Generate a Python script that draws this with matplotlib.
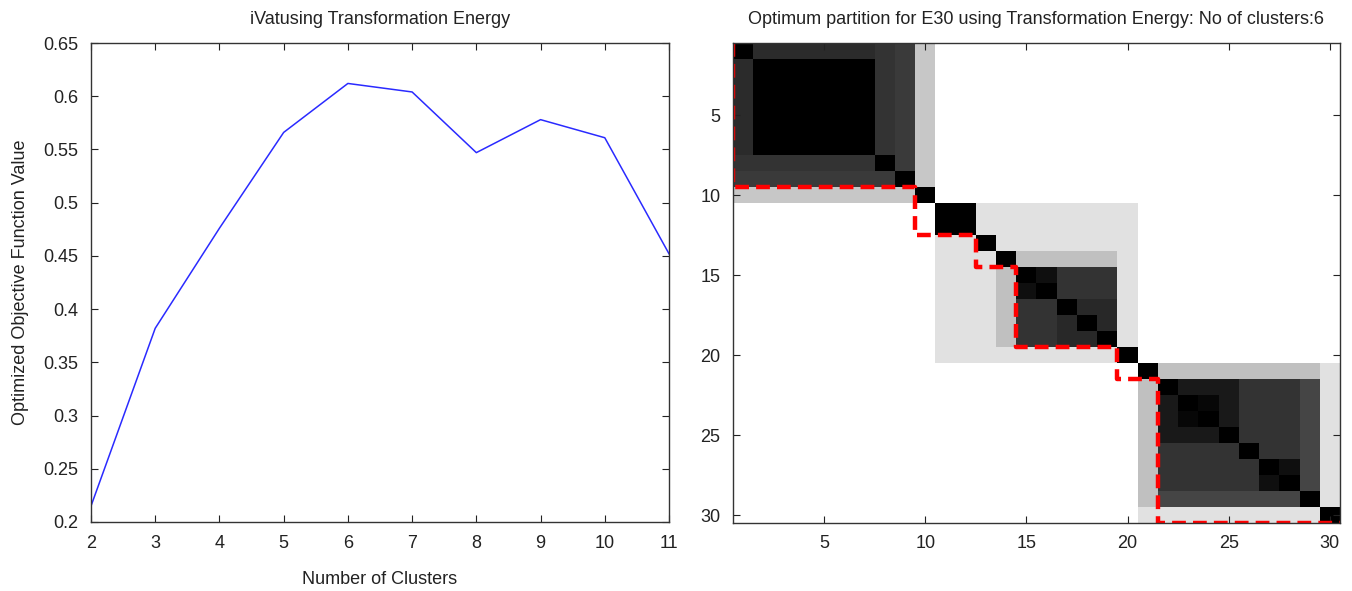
import numpy as np
import matplotlib
matplotlib.use("Agg")
import matplotlib.pyplot as plt
from matplotlib.ticker import FormatStrFormatter

# ---- left panel data ----
n_clusters = [2, 3, 4, 5, 6, 7, 8, 9, 10, 11]
objective = [0.215, 0.382, 0.476, 0.566, 0.612, 0.604, 0.547, 0.578, 0.561, 0.452]

# ---- right panel data: nested dissimilarity blocks (1-indexed, inclusive) ----
n_objects = 30
blk_start = [1, 1, 1, 1, 2, 11, 11, 14, 15, 15, 17, 21, 21, 22, 22, 22, 23, 27]
blk_end = [10, 9, 8, 7, 7, 20, 12, 19, 19, 16, 19, 30, 29, 29, 28, 25, 24, 28]
blk_level = [0.78, 0.23, 0.20, 0.17, 0.0, 0.88, 0.0, 0.75, 0.20, 0.06, 0.16,
             0.88, 0.75, 0.27, 0.20, 0.10, 0.03, 0.06]
cluster_ends = [9, 12, 14, 19, 21, 30]

font = ['Liberation Sans Narrow', 'Liberation Sans', 'DejaVu Sans']
plt.rcParams['font.family'] = font

fig = plt.figure(figsize=(13.52, 5.91), dpi=100)

# ---------- left ----------
ax1 = fig.add_axes([91 / 1352, 1 - 522 / 591, 578 / 1352, 479 / 591])
ax1.plot(n_clusters, objective, color='#2a2aff', lw=1.1)
ax1.set_xlim(2, 11)
ax1.set_ylim(0.2, 0.65)
ax1.set_xticks(n_clusters)
ax1.set_yticks(np.arange(0.2, 0.651, 0.05))
ax1.yaxis.set_major_formatter(FormatStrFormatter('%g'))
ax1.tick_params(direction='in', top=True, right=True, length=5, labelsize=13,
                colors='#222222', pad=9)
for s in ax1.spines.values():
    s.set_color('#333333')
    s.set_linewidth(1.0)
ax1.set_title('iVatusing Transformation Energy', fontsize=13, pad=14, color='#222222')
ax1.set_xlabel('Number of Clusters', fontsize=13, labelpad=14, color='#222222')
ax1.set_ylabel('Optimized Objective Function Value', fontsize=13, labelpad=10, color='#222222')

# ---------- right ----------
D = np.ones((n_objects, n_objects))
for s, e, lv in zip(blk_start, blk_end, blk_level):
    D[s - 1:e, s - 1:e] = lv
np.fill_diagonal(D, 0.0)

ax2 = fig.add_axes([733 / 1352, 1 - 523 / 591, 607 / 1352, 480 / 591])
idx = np.arange(1, n_objects + 1)
ax2.imshow(D, cmap='gray', vmin=0, vmax=1, interpolation='nearest', aspect='auto',
           extent=(0.5, n_objects + 0.5, n_objects + 0.5, 0.5))

px, py = [0.5], [0.5]
prev = 0.5
for e in cluster_ends:
    px.append(prev); py.append(e + 0.5)
    px.append(e + 0.5); py.append(e + 0.5)
    prev = e + 0.5
ax2.plot(px, py, color='#ff0000', lw=3.2, linestyle=(0, (3.1, 1.6)),
         dash_capstyle='butt', solid_joinstyle='miter')

ax2.set_xlim(0.5, n_objects + 0.5)
ax2.set_ylim(n_objects + 0.5, 0.5)
ticks = [5, 10, 15, 20, 25, 30]
ax2.set_xticks(ticks)
ax2.set_yticks(ticks)
ax2.tick_params(direction='in', top=True, right=True, length=5, labelsize=13,
                colors='#222222', pad=9)
for s in ax2.spines.values():
    s.set_color('#333333')
    s.set_linewidth(1.0)
ax2.set_title('Optimum partition for E30 using Transformation Energy: No of clusters:6',
              fontsize=13, pad=14, color='#222222')

fig.savefig('out.png', dpi=100)
